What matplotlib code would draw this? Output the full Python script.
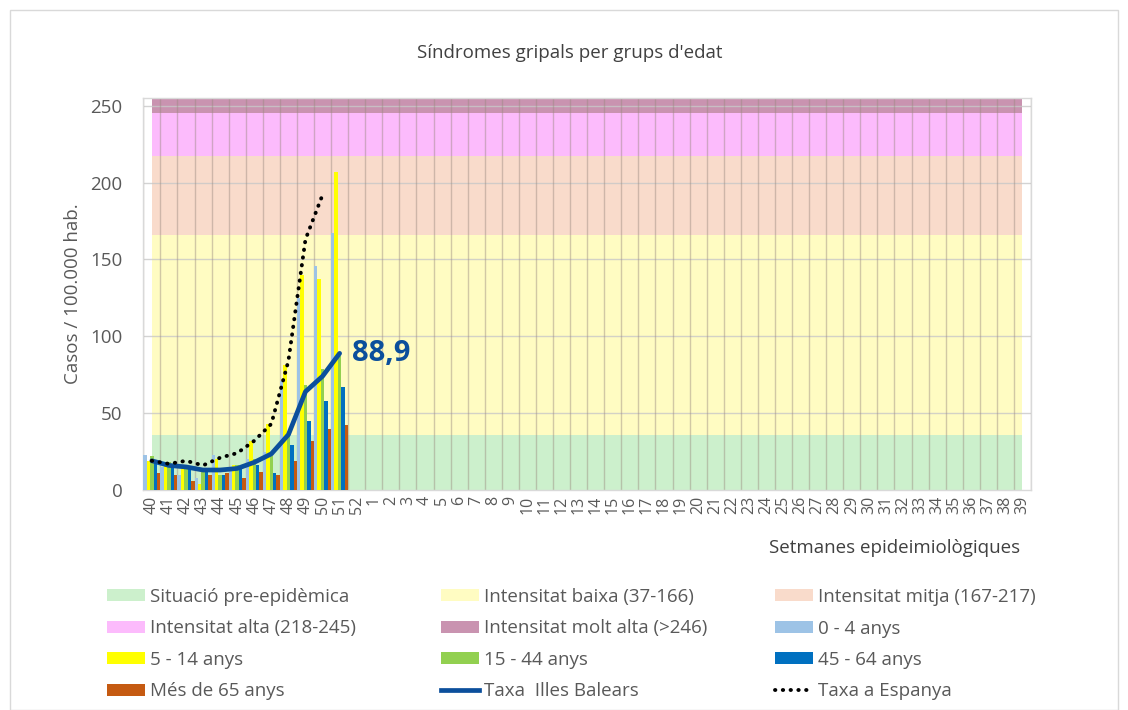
import matplotlib
matplotlib.use("Agg")
import matplotlib.pyplot as plt
from matplotlib.patches import Patch, Rectangle
from matplotlib.lines import Line2D
import numpy as np

plt.rcParams['font.family'] = ['Open Sans', 'DejaVu Sans']

weeks = [str(w) for w in list(range(40, 53)) + list(range(1, 40))]

# threshold bands (stacked thickness)
band_labels = ["Situació pre-epidèmica", "Intensitat baixa (37-166)", "Intensitat mitja (167-217)",
               "Intensitat alta (218-245)", "Intensitat molt alta (>246)"]
band_pre = [36] * 52
band_baixa = [130] * 52
band_mitja = [51] * 52
band_alta = [28] * 52
band_molt = [10] * 52
band_colors = ["#CCF0CC", "#FFFCC2", "#F9DBCB", "#FCBBFC", "#C993B0"]

# age-group rates (weeks 40-51)
age_labels = ["0 - 4 anys", "5 - 14 anys", "15 - 44 anys", "45 - 64 anys", "Més de 65 anys"]
age_0_4 = [23, 15, 10, 8, 23, 14, 20, 25, 71, 125, 146, 167]
age_5_14 = [19, 18, 14, 4, 20, 16, 32, 43, 81, 140, 137, 207]
age_15_44 = [22, 18, 16, 14, 10, 16, 20, 22, 35, 68, 79, 87]
age_45_64 = [18, 16, 15, 12, 10, 14, 16, 11, 29, 45, 58, 67]
age_65 = [11, 10, 6, 10, 11, 8, 12, 10, 19, 32, 40, 42]
age_colors = ["#9DC3E6", "#FFFF00", "#92D050", "#0070C0", "#C55A11"]

taxa_ib = [19, 16, 15, 13, 13, 14, 18, 23.5, 36, 64, 74, 88.9]
taxa_es = [19, 17, 19, 16, 21, 24, 32, 43, 84, 163, 192]

fig = plt.figure(figsize=(11.28, 7.10), dpi=100)
ax = fig.add_axes([143.3 / 1128, 1 - 490 / 710, (1031 - 143.3) / 1128, (490 - 98) / 710])

x = np.arange(len(weeks))
bands = [band_pre, band_baixa, band_mitja, band_alta, band_molt]
base = np.zeros(len(weeks))
for vals, col in zip(bands, band_colors):
    top = base + np.array(vals)
    ax.fill_between(x, base, top, color=col, linewidth=0, zorder=1)
    base = top

# gridlines
for yv in range(50, 251, 50):
    ax.axhline(yv, color="#C8C8C8", lw=1, alpha=0.8, zorder=2)
for xv in np.arange(-0.5, len(weeks) + 0.5, 1):
    ax.axvline(xv, color="#9A8A80", lw=1, alpha=0.45, zorder=2)

ages = [age_0_4, age_5_14, age_15_44, age_45_64, age_65]
xb = np.arange(len(age_0_4))
w = 0.2
for k, (vals, col) in enumerate(zip(ages, age_colors)):
    ax.bar(xb + (k - 2) * w, vals, width=w, color=col, linewidth=0, zorder=3)

dot_style = (0, (0.1, 1.9))
ax.plot(np.arange(len(taxa_ib)), taxa_ib, color="#0B4F9C", lw=3.4, solid_capstyle="round",
        solid_joinstyle="round", zorder=5)
ax.plot(np.arange(len(taxa_es)), taxa_es, color="black", lw=2.8, linestyle=dot_style,
        dash_capstyle="round", zorder=6)
ax.annotate("88,9", (len(taxa_ib) - 1, taxa_ib[-1]), xytext=(9, 0), textcoords="offset points",
            color="#0B4F9C", fontsize=21, fontweight="bold", va="center", ha="left", zorder=7)

ax.set_xlim(-0.5, len(weeks) - 0.5)
ax.set_ylim(0, 255)
ax.set_yticks(range(0, 251, 50))
ax.set_xticks(x)
ax.set_xticklabels(weeks, rotation=90, fontsize=11.5, color="#595959")
ax.tick_params(axis="y", labelsize=13.5, labelcolor="#595959", length=0, pad=15)
ax.tick_params(axis="x", length=0, pad=4)
for s in ax.spines.values():
    s.set_color("#D9D9D9")
    s.set_linewidth(1)
ax.set_ylabel("Casos / 100.000 hab.", fontsize=13.5, color="#595959", labelpad=6)

fig.text(0.505, 1 - 53 / 710, "Síndromes gripals per grups d'edat", ha="center", va="center",
         fontsize=13.5, color="#404040")
fig.text(895 / 1128, 1 - 548 / 710, "Setmanes epideimiològiques", ha="center", va="center",
         fontsize=13.5, color="#404040")

# legend (row-major layout as three column legends)
def ph(c):
    return Patch(facecolor=c, edgecolor="none")

items = [
    (ph(band_colors[0]), band_labels[0]), (ph(band_colors[1]), band_labels[1]), (ph(band_colors[2]), band_labels[2]),
    (ph(band_colors[3]), band_labels[3]), (ph(band_colors[4]), band_labels[4]), (ph(age_colors[0]), age_labels[0]),
    (ph(age_colors[1]), age_labels[1]), (ph(age_colors[2]), age_labels[2]), (ph(age_colors[3]), age_labels[3]),
    (ph(age_colors[4]), age_labels[4]),
    (Line2D([], [], color="#0B4F9C", lw=3.4), "Taxa  Illes Balears"),
    (Line2D([], [], color="black", lw=2.8, linestyle=dot_style, dash_capstyle="round"), "Taxa a Espanya"),
]
col_x = [107, 441, 775]
for c in range(3):
    sub = items[c::3]
    leg = fig.legend([h for h, _ in sub], [l for _, l in sub], loc="upper left",
                     bbox_to_anchor=(col_x[c] / 1128, 1 - 588 / 710), frameon=False,
                     fontsize=13.5, labelcolor="#595959", handlelength=2.03, handleheight=0.6,
                     handletextpad=0.27, labelspacing=0.72, borderpad=0, borderaxespad=0)

fig.patches.append(Rectangle((10 / 1128, 0), 1108 / 1128, 700 / 710, transform=fig.transFigure,
                             fill=False, edgecolor="#D9D9D9", lw=1))

fig.savefig("out.png", dpi=100)
